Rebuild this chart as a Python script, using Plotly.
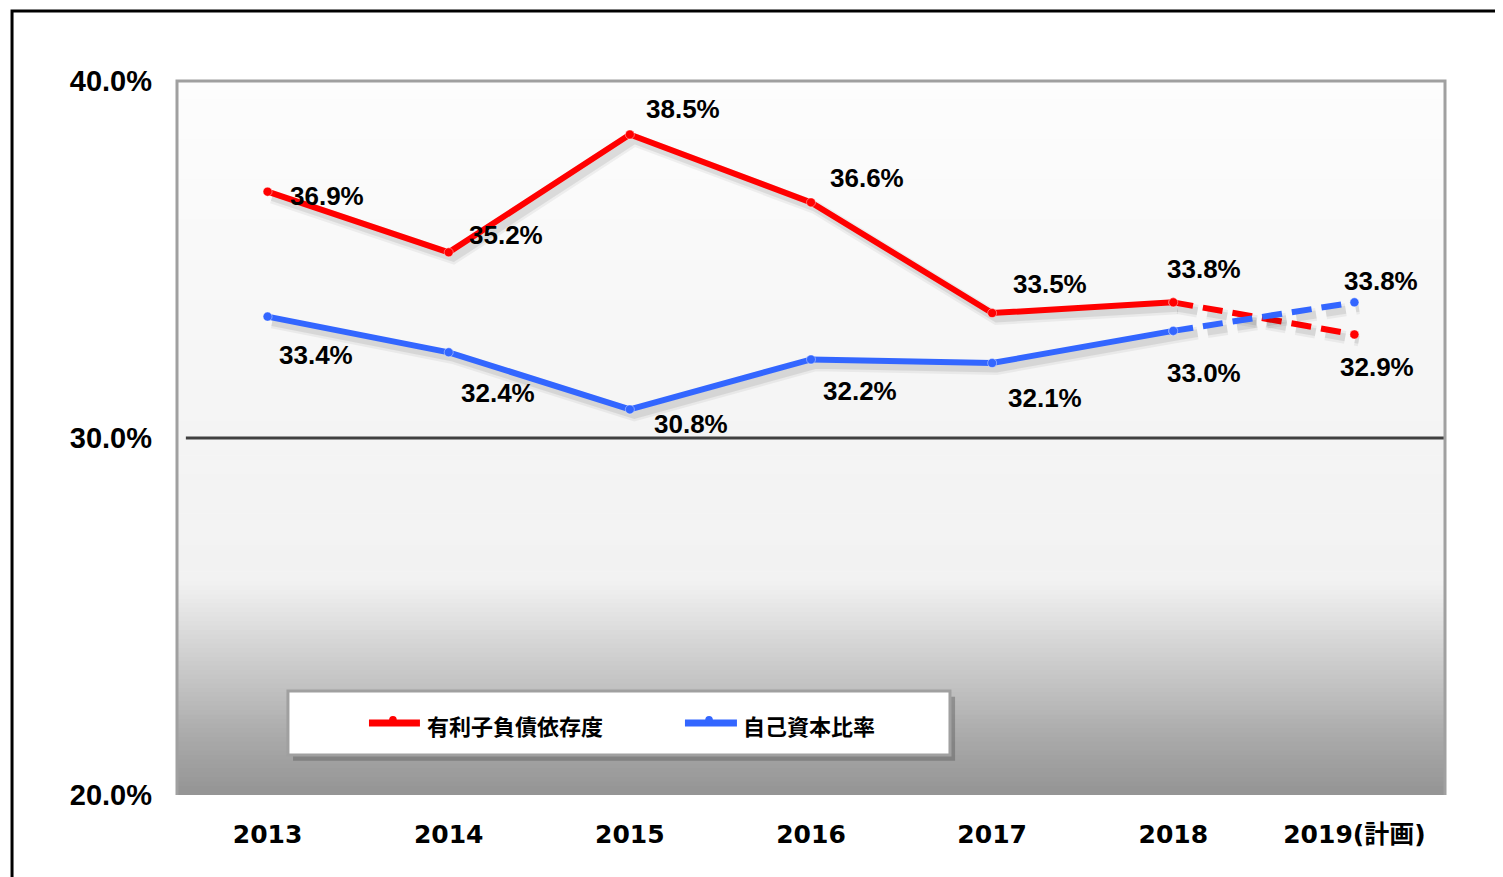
import numpy as np
import plotly.graph_objects as go

# ---- data ----
categories = ["2013", "2014", "2015", "2016", "2017", "2018", "2019(計画)"]
debt_ratio = [36.9, 35.2, 38.5, 36.6, 33.5, 33.8, 32.9]      # 有利子負債依存度
equity_ratio = [33.4, 32.4, 30.8, 32.2, 32.1, 33.0, 33.8]    # 自己資本比率
y_ticks = [20, 30, 40]
y_ticktext = ["20.0%", "30.0%", "40.0%"]
series_names = ["有利子負債依存度", "自己資本比率"]

RED = "#ff0000"
BLUE = "#3366ff"
LABEL_FONT = dict(family="Liberation Sans, Arial", size=26, color="black", weight="bold")

# label offsets (px) relative to each point
red_off = [(59, -4), (57, 17), (53, 26), (56, 24), (58, 29), (31, 33), (23, -33)]
blue_off = [(48, -38), (49, -41), (61, -15), (49, -32), (53, -35), (31, -42), (27, 21)]

fig = go.Figure()

n = len(categories)
idx = list(range(n))
sdx, sdy = 0.025, -0.15  # shadow offset in data units


def add_series(vals, color):
    # soft shadow
    for w, a in [(13, 0.05), (8, 0.08)]:
        fig.add_trace(go.Scatter(x=[i + sdx for i in idx[:n - 1]], y=[v + sdy for v in vals[:n - 1]],
                                 mode="lines", line=dict(color=f"rgba(0,0,0,{a})", width=w),
                                 hoverinfo="skip", showlegend=False))
        fig.add_trace(go.Scatter(x=[i + sdx for i in idx[n - 2:]], y=[v + sdy for v in vals[n - 2:]],
                                 mode="lines", line=dict(color=f"rgba(0,0,0,{a})", width=w, dash="20px,10px"),
                                 hoverinfo="skip", showlegend=False))
    # actual
    fig.add_trace(go.Scatter(x=idx[:n - 1], y=vals[:n - 1], mode="lines+markers",
                             line=dict(color=color, width=6),
                             marker=dict(size=9, color=color, line=dict(width=1, color="rgba(255,255,255,0.4)")),
                             showlegend=False))
    fig.add_trace(go.Scatter(x=idx[n - 2:], y=vals[n - 2:], mode="lines+markers",
                             line=dict(color=color, width=6, dash="20px,10px"),
                             marker=dict(size=9, color=color, line=dict(width=1, color="rgba(255,255,255,0.4)")),
                             showlegend=False))


add_series(debt_ratio, RED)
add_series(equity_ratio, BLUE)

annotations = []
for i, v in enumerate(debt_ratio):
    annotations.append(dict(x=i, y=v, xref="x", yref="y", text=f"{v:.1f}%", showarrow=False,
                            xshift=red_off[i][0], yshift=red_off[i][1], font=LABEL_FONT))
for i, v in enumerate(equity_ratio):
    annotations.append(dict(x=i, y=v, xref="x", yref="y", text=f"{v:.1f}%", showarrow=False,
                            xshift=blue_off[i][0], yshift=blue_off[i][1], font=LABEL_FONT))

shapes = []
# gradient background
stops_v = [20, 21.5, 22.7, 23.8, 24.9, 26, 30, 40]
stops_c = [148, 168, 188, 206, 224, 242, 244, 253]
edges = np.linspace(20, 40, 161)
for a, b in zip(edges[:-1], edges[1:]):
    c = int(round(np.interp((a + b) / 2, stops_v, stops_c)))
    shapes.append(dict(type="rect", xref="x domain", yref="y", x0=0, x1=1, y0=a, y1=b + 0.02,
                       fillcolor=f"rgb({c},{c},{c})", line=dict(width=0), layer="below"))
# 30% line
shapes.append(dict(type="line", xref="x domain", yref="y", x0=0.007, x1=1, y0=30, y1=30,
                   line=dict(color="#404040", width=3), layer="below"))
# plot border (left, top, right)
shapes.append(dict(type="path", xref="paper", yref="paper",
                   path="M 0,0 L 0,1 L 1,1 L 1,0", line=dict(color="#a0a0a0", width=3), layer="above"))
# outer frame
shapes.append(dict(type="rect", xref="paper", yref="paper", x0=-0.1301, x1=1.07, y0=-0.16, y1=1.098,
                   line=dict(color="black", width=3), fillcolor="rgba(0,0,0,0)"))

# legend box (manual)
lx0, lx1, ly0, ly1 = 0.0875, 0.6096, 0.056, 0.1457
shapes.append(dict(type="rect", xref="paper", yref="paper", x0=lx0 + 0.004, x1=lx1 + 0.004,
                   y0=ly0 - 0.008, y1=ly1 - 0.008, fillcolor="rgba(90,90,90,0.45)", line=dict(width=0)))
shapes.append(dict(type="rect", xref="paper", yref="paper", x0=lx0, x1=lx1, y0=ly0, y1=ly1,
                   fillcolor="white", line=dict(color="#a0a0a0", width=3)))
leg_y = 0.1008
for (x0, x1, xm, xt), color, name in [((0.1514, 0.1916, 0.1703, 0.1956), RED, series_names[0]),
                                       ((0.4006, 0.4416, 0.4196, 0.4448), BLUE, series_names[1])]:
    shapes.append(dict(type="line", xref="paper", yref="paper", x0=x0, x1=x1, y0=leg_y, y1=leg_y,
                       line=dict(color=color, width=7)))
    shapes.append(dict(type="circle", xref="paper", yref="paper", x0=xm - 0.003, x1=xm + 0.003,
                       y0=leg_y - 0.001, y1=leg_y + 0.01, fillcolor=color, line=dict(width=0)))
    annotations.append(dict(x=xt, y=leg_y - 0.003, xref="paper", yref="paper", text=name, showarrow=False,
                            xanchor="left", yanchor="middle",
                            font=dict(family="Noto Sans CJK JP", size=22, color="black", weight="bold")))

fig.update_layout(
    width=1503, height=877,
    margin=dict(l=169, r=66, t=73, b=90),
    paper_bgcolor="white", plot_bgcolor="white",
    shapes=shapes, annotations=annotations,
    showlegend=False,
    xaxis=dict(range=[-0.5, 6.5], tickmode="array", tickvals=idx, ticktext=categories,
               showgrid=False, zeroline=False, showline=False, ticks="",
               ticklabelstandoff=22,
               tickfont=dict(family="DejaVu Sans, Noto Sans CJK JP", size=25, color="black", weight="bold")),
    yaxis=dict(range=[20, 40], tickmode="array", tickvals=y_ticks, ticktext=y_ticktext,
               showgrid=False, zeroline=False, showline=False, ticks="",
               ticklabelstandoff=24,
               tickfont=dict(family="Liberation Sans, Arial", size=29, color="black", weight="bold")),
)

fig.write_html("out.html")
